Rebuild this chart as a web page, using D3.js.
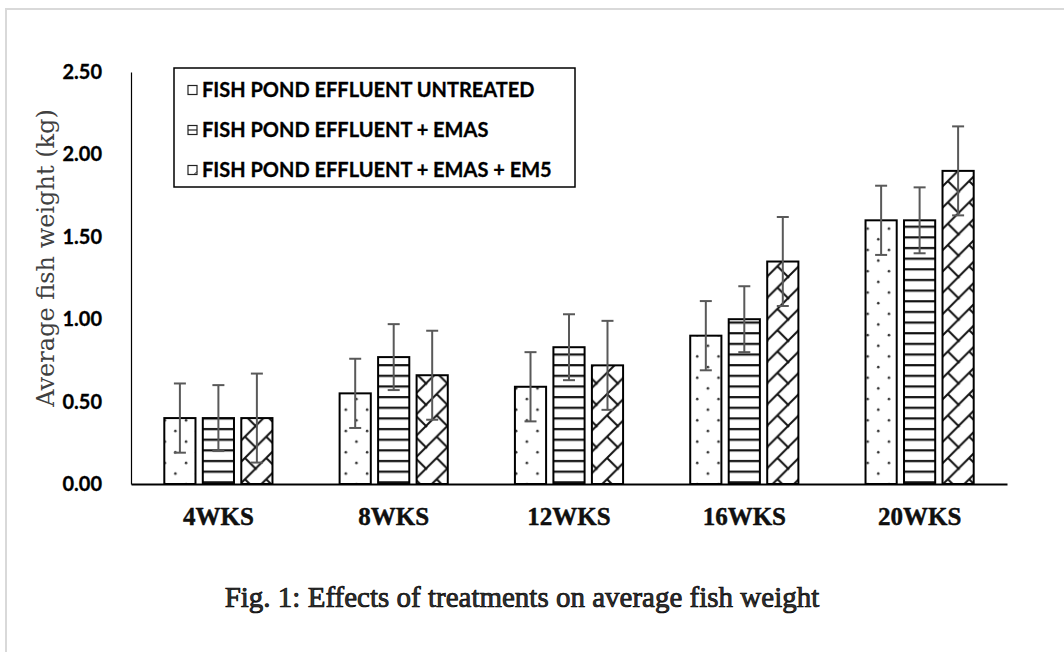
<!DOCTYPE html>
<html>
<head>
<meta charset="utf-8">
<script src="https://cdn.jsdelivr.net/npm/d3@7"></script>
<style>
  body { margin: 0; background: #fff; }
</style>
</head>
<body>
<script>
let width = 1064;
let height = 652;

// data
var weeks = ['4WKS', '8WKS', '12WKS', '16WKS', '20WKS'];
var seriesNames = ['FISH POND EFFLUENT UNTREATED', 'FISH POND EFFLUENT + EMAS', 'FISH POND EFFLUENT + EMAS + EM5'];
var untreated = [0.40, 0.55, 0.59, 0.90, 1.60];
var emas = [0.40, 0.77, 0.83, 1.00, 1.60];
var emasEm5 = [0.40, 0.66, 0.72, 1.35, 1.90];
var errUntreated = [0.21, 0.21, 0.21, 0.21, 0.21];
var errEmas = [0.20, 0.20, 0.20, 0.20, 0.20];
var errEmasEm5 = [0.27, 0.27, 0.27, 0.27, 0.27];
var yTicks = [0, 0.5, 1, 1.5, 2, 2.5];

var values = [untreated, emas, emasEm5];
var errors = [errUntreated, errEmas, errEmasEm5];
var patternIds = ['pat-dots', 'pat-hlines', 'pat-brick'];

var svg = d3.select('body')
            .append('svg')
            .attr('width', width)
            .attr('height', height);

// outer light frame
svg.append('rect').attr('x', 6).attr('y', 9).attr('width', width + 20).attr('height', height + 20)
    .attr('fill', 'none').attr('stroke', '#d9d9d9').attr('stroke-width', 2);

// patterns
var defs = svg.append('defs');
let tile = 21.3;

var dots = defs.append('pattern').attr('id', 'pat-dots').attr('patternUnits', 'userSpaceOnUse')
    .attr('width', tile).attr('height', tile);
dots.append('rect').attr('width', tile).attr('height', tile).attr('fill', '#fff');
dots.append('circle').attr('cx', 5).attr('cy', 5).attr('r', 1.3).attr('fill', '#333');
dots.append('circle').attr('cx', 5 + tile / 2).attr('cy', 5 + tile / 2).attr('r', 1.3).attr('fill', '#333');

var hl = defs.append('pattern').attr('id', 'pat-hlines').attr('patternUnits', 'userSpaceOnUse')
    .attr('width', tile).attr('height', tile / 2);
hl.append('rect').attr('width', tile).attr('height', tile / 2).attr('fill', '#fff');
hl.append('rect').attr('x', 0).attr('y', 2).attr('width', tile).attr('height', 2.2).attr('fill', '#111');

var br = defs.append('pattern').attr('id', 'pat-brick').attr('patternUnits', 'userSpaceOnUse')
    .attr('width', tile).attr('height', tile);
br.append('rect').attr('width', tile).attr('height', tile).attr('fill', '#fff');
br.append('path')
    .attr('d', 'M-2,' + (tile + 2) + 'L' + (tile + 2) + ',-2 M' + (tile / 2) + ',' + (tile / 2) + 'L' + (tile + 1) + ',' + (tile + 1)
      + ' M-1,-1 L1,1')
    .attr('stroke', '#111').attr('stroke-width', 2).attr('fill', 'none');

// scales
let plotLeft = 131, plotRight = 1007, plotTop = 72, plotBottom = 484;

var x0 = d3.scaleBand().domain(weeks).range([plotLeft, plotRight]).paddingInner(0.383).paddingOuter(0.19);
var x1 = d3.scaleBand().domain(d3.range(3)).range([0, x0.bandwidth()]).paddingInner(0.19);
var y = d3.scaleLinear().domain([0, 2.5]).range([plotBottom, plotTop]);

// bars
for (var s = 0; s < 3; s++) {
  svg.append('g').selectAll('rect')
    .data(values[s])
    .join('rect')
    .attr('x', (d, i) => x0(weeks[i]) + x1(s))
    .attr('y', d => y(d))
    .attr('width', x1.bandwidth())
    .attr('height', d => y(0) - y(d))
    .attr('fill', 'url(#' + patternIds[s] + ')')
    .attr('stroke', '#000')
    .attr('stroke-width', 2);
}

// error bars
for (var s = 0; s < 3; s++) {
  var g = svg.append('g').attr('stroke', '#595959').attr('stroke-width', 2);
  values[s].forEach(function(v, i) {
    var cx = x0(weeks[i]) + x1(s) + x1.bandwidth() / 2;
    var e = errors[s][i];
    g.append('line').attr('x1', cx).attr('x2', cx).attr('y1', y(v + e)).attr('y2', y(v - e));
    g.append('line').attr('x1', cx - 6).attr('x2', cx + 6).attr('y1', y(v + e)).attr('y2', y(v + e));
    g.append('line').attr('x1', cx - 6).attr('x2', cx + 6).attr('y1', y(v - e)).attr('y2', y(v - e));
  });
}

// axes
var yAxis = svg.append('g').attr('transform', 'translate(' + plotLeft + ',0)')
    .call(d3.axisLeft(y).tickValues(yTicks).tickFormat(d3.format('.2f')).tickSize(0).tickPadding(29));
yAxis.select('.domain').attr('stroke', '#000').attr('stroke-width', 1.2);
yAxis.selectAll('text').attr('font-family', 'Lato').attr('font-weight', 'bold').attr('font-size', 20).attr('fill', '#000')
    .attr('stroke', '#000').attr('stroke-width', 0.3);

var xAxis = svg.append('g').attr('transform', 'translate(0,' + plotBottom + ')')
    .call(d3.axisBottom(x0).tickSize(0).tickPadding(23));
xAxis.select('.domain').attr('stroke', '#000').attr('stroke-width', 2);
xAxis.selectAll('text').attr('font-family', 'Liberation Serif').attr('font-weight', 'bold').attr('font-size', 25)
    .attr('fill', '#111').attr('stroke', '#000').attr('stroke-width', 0.4);

// y title
svg.append('text')
    .attr('transform', 'translate(54,258) rotate(-90)')
    .attr('text-anchor', 'middle')
    .attr('font-family', 'DejaVu Serif').attr('font-size', 24).attr('fill', '#404040')
    .text('Average fish weight (kg)');

// legend
svg.append('rect').attr('x', 174).attr('y', 68).attr('width', 401).attr('height', 119)
    .attr('fill', '#fff').attr('stroke', '#000').attr('stroke-width', 1.5);

seriesNames.forEach(function(name, i) {
  var cy = 90 + i * 40;
  svg.append('rect').attr('x', 188).attr('y', cy - 4.5).attr('width', 9).attr('height', 9)
      .attr('fill', '#fff').attr('stroke', '#222').attr('stroke-width', 1.2);
  if (i == 1) {
    svg.append('line').attr('x1', 188).attr('x2', 197).attr('y1', cy).attr('y2', cy)
        .attr('stroke', '#222').attr('stroke-width', 1.2);
  }
  if (i == 2) {
    svg.append('line').attr('x1', 194).attr('x2', 197).attr('y1', cy + 4.5).attr('y2', cy + 1.5)
        .attr('stroke', '#222').attr('stroke-width', 1);
  }
  svg.append('text').attr('x', 202).attr('y', cy + 7)
      .attr('font-family', 'Lato').attr('font-weight', 'bold').attr('font-size', 20).attr('fill', '#000')
      .attr('stroke', '#000').attr('stroke-width', 0.3)
      .text(name);
});

// caption
svg.append('text').attr('x', 522).attr('y', 607).attr('text-anchor', 'middle')
    .attr('font-family', 'Liberation Serif').attr('font-size', 29)
    .attr('fill', '#333').attr('stroke', '#000').attr('stroke-width', 0.7)
    .text('Fig. 1: Effects of treatments on average fish weight');
</script>
</body>
</html>
